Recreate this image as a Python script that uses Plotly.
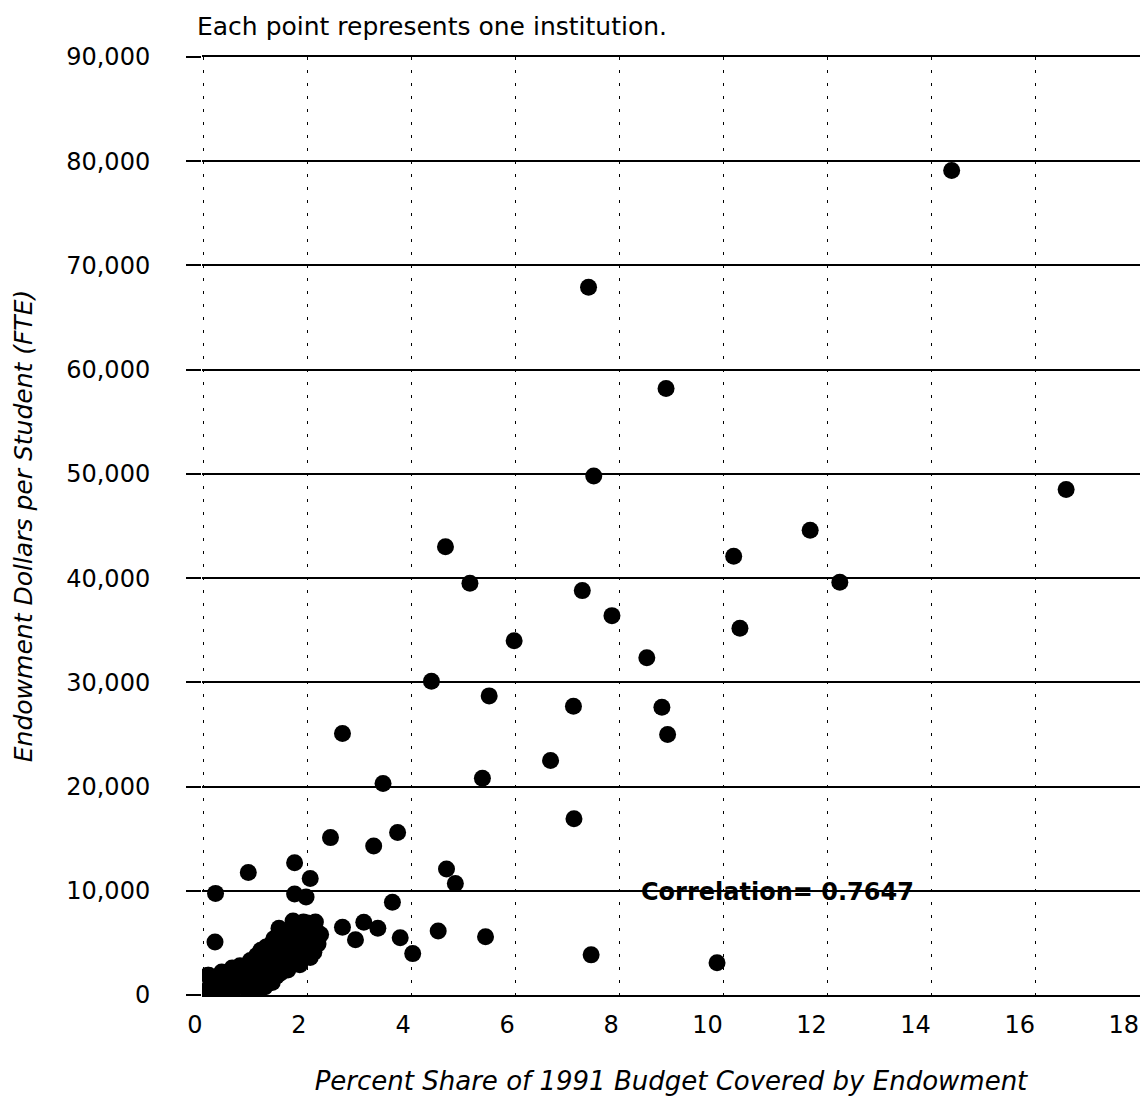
import plotly.graph_objects as go

# ---- data (percent share of 1991 budget, endowment $ per FTE student) ----
# scattered institutions
pct_scatter = [14.38, 7.40, 8.89, 7.50, 16.58, 4.65, 11.66, 10.19, 5.12, 12.23,
               7.28, 7.85, 10.31, 5.97, 8.52, 4.38, 5.49, 7.11, 8.81, 8.92,
               2.67, 6.67, 5.36, 3.45, 7.12, 3.73, 2.44, 3.27, 1.75, 4.67,
               0.86, 2.05, 4.84, 0.23, 1.75, 1.97, 3.63, 3.08, 2.67, 3.35,
               4.51, 2.92, 3.78, 5.42, 0.22, 4.02, 7.45, 9.87]
endow_scatter = [79100, 67900, 58200, 49800, 48500, 43000, 44600, 42100, 39500, 39600,
                 38800, 36400, 35200, 34000, 32350, 30100, 28700, 27700, 27600, 25000,
                 25100, 22500, 20800, 20300, 16900, 15600, 15100, 14300, 12700, 12100,
                 11750, 11170, 10700, 9750, 9700, 9400, 8900, 6980, 6500, 6400,
                 6130, 5300, 5500, 5600, 5080, 3970, 3850, 3100]

# dense group near the origin
pct_cluster = [0.05, 0.12, 0.15, 0.25, 0.30, 0.38, 0.45, 0.50, 0.55, 0.60,
               0.70, 0.75, 0.82, 0.90, 0.95, 1.00, 1.05, 1.10, 1.15, 1.20,
               1.25, 1.30, 1.35, 1.40, 1.45, 1.50, 1.52, 1.60, 1.62, 1.68,
               1.72, 1.75, 1.80, 1.85, 1.90, 1.95, 1.97, 2.05, 2.10, 2.15,
               2.20, 2.00, 0.08, 0.20, 0.65, 1.02, 1.40, 1.78, 2.16, 0.35,
               0.10, 0.18, 0.20, 0.28, 0.35, 0.42, 0.48, 0.58, 0.62, 0.68,
               0.78, 0.85, 0.88, 0.92, 1.08, 1.12, 1.18, 1.22, 1.28, 1.32,
               1.38, 1.42, 1.48, 1.55, 1.58, 1.65, 1.70, 1.82, 1.88, 1.92,
               2.02, 2.08, 2.12, 2.25, 1.35, 1.20]
endow_cluster = [300, 800, 1600, 700, 200, 1000, 300, 1300, 2600, 1800,
                 2800, 800, 1500, 3300, 1900, 300, 1100, 4300, 2600, 3200,
                 1500, 4900, 2300, 1800, 6400, 5500, 3000, 4000, 2400, 4700,
                 7100, 3300, 6000, 2900, 6500, 4100, 5700, 3600, 5200, 7000,
                 4900, 6900, 1900, 100, 2000, 3800, 2700, 5000, 6200, 2200,
                 1900, 400, 1200, 1500, 600, 2000, 900, 500, 1200, 1600,
                 2200, 600, 2600, 1200, 3500, 1800, 800, 4000, 2800, 1200,
                 3400, 4600, 2100, 3800, 6000, 3200, 5300, 4400, 3600, 7000,
                 4600, 6200, 4100, 5800, 5400, 4600]

x_tick_vals = [0, 2, 4, 6, 8, 10, 12, 14, 16, 18]
x_tick_text = ["0", "2", "4", "6", "8", "10", "12", "14", "16", "18"]
y_tick_vals = [0, 10000, 20000, 30000, 40000, 50000, 60000, 70000, 80000, 90000]
y_tick_text = ["0", "10,000", "20,000", "30,000", "40,000", "50,000",
               "60,000", "70,000", "80,000", "90,000"]

correlation_text = "Correlation= 0.7647"
note_text = "Each point represents one institution."

x_all = pct_scatter + pct_cluster
y_all = endow_scatter + endow_cluster

fig = go.Figure()
fig.add_trace(go.Scatter(
    x=x_all, y=y_all, mode="markers",
    marker=dict(size=17, color="black", line=dict(width=0)),
    hoverinfo="x+y", showlegend=False,
))

fig.update_layout(
    width=1140, height=1096,
    margin=dict(l=202, r=0, t=57, b=101),
    paper_bgcolor="white", plot_bgcolor="white",
    font=dict(family="DejaVu Sans", color="black"),
    showlegend=False,
    xaxis=dict(
        range=[-0.03, 18], tickvals=x_tick_vals, ticktext=x_tick_text,
        ticks="", ticklabelposition="outside left", ticklabelstandoff=7,
        tickfont=dict(size=24, family="DejaVu Sans", color="black"),
        showgrid=True, gridcolor="black", gridwidth=1.2, griddash="3px,10px",
        zeroline=False, showline=True, mirror=True, linecolor="black", linewidth=2,
        title=dict(text="Percent Share of 1991 Budget Covered by Endowment",
                   font=dict(size=26, family="DejaVu Sans", style="italic", color="black"),
                   standoff=40),
    ),
    yaxis=dict(
        range=[0, 90000], tickvals=y_tick_vals, ticktext=y_tick_text,
        ticks="outside", ticklen=15, tickcolor="black", tickwidth=1.5,
        ticklabelstandoff=31,
        tickfont=dict(size=24, family="DejaVu Sans", color="black"),
        showgrid=True, gridcolor="black", gridwidth=1.5,
        zeroline=False, showline=False,
        title=dict(text="Endowment Dollars per Student (FTE)",
                   font=dict(size=25, family="DejaVu Sans", style="italic", color="black"),
                   standoff=26),
    ),
    annotations=[
        dict(text=note_text, xref="paper", yref="paper",
             x=-0.0075, y=1 + (57 - 26) / 938, xanchor="left", yanchor="middle",
             showarrow=False, font=dict(size=25, family="DejaVu Sans", color="black")),
        dict(text="<b>" + correlation_text + "</b>", xref="x", yref="y",
             x=8.37, y=10000, xanchor="left", yanchor="middle", yshift=-1,
             showarrow=False, font=dict(size=24, family="DejaVu Sans", color="black")),
    ],
)

fig.write_html("out.html", config={"displayModeBar": False},
               post_script="document.body.style.margin='0';")
